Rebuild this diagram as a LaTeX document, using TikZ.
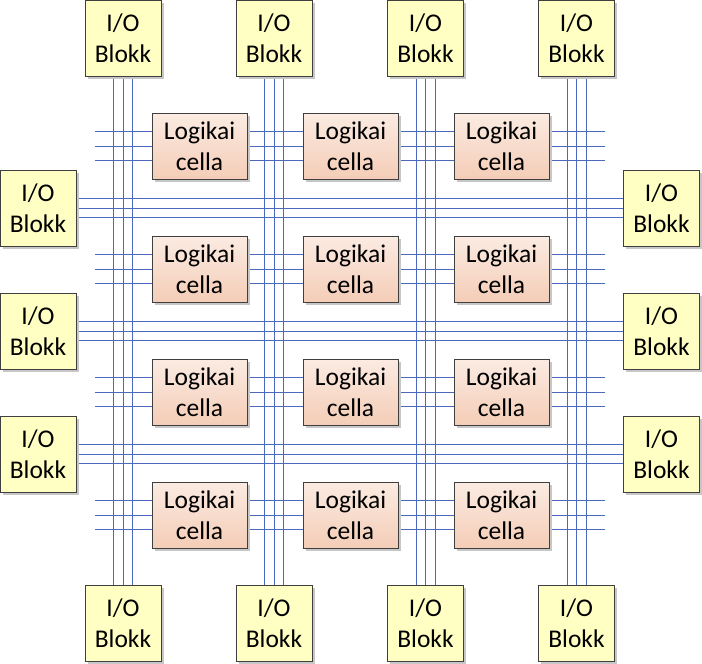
\documentclass[tikz,border=0pt]{standalone}
\usepackage{fontspec}
\setmainfont{Carlito}
\usetikzlibrary{shadows,backgrounds}
\definecolor{wire}{HTML}{4A69BD}
\definecolor{iofill}{HTML}{FFFFC4}
\definecolor{celltop}{HTML}{FBEBE2}
\definecolor{cellbot}{HTML}{F4CDB7}
\definecolor{edge}{HTML}{3F3F3F}
\tikzset{
  x=1pt, y=-1pt,
  iobox/.style={draw=edge, line width=1pt, fill=iofill, minimum width=76pt, minimum height=76pt,
    inner sep=0pt, align=center, font=\fontsize{25.5}{31}\selectfont,
    drop shadow={shadow xshift=2.5pt, shadow yshift=-2.5pt, fill=black!22, opacity=1}},
  cellbox/.style={draw=edge, line width=1pt, top color=celltop, bottom color=cellbot,
    minimum width=95pt, minimum height=66pt, inner sep=0pt, align=center,
    font=\fontsize{25.5}{31}\selectfont,
    drop shadow={shadow xshift=2.5pt, shadow yshift=-2.5pt, fill=black!22, opacity=1}},
  wireline/.style={draw=wire, line width=1pt},
}
\begin{document}
\begin{tikzpicture}
\useasboundingbox (0,0) rectangle (702,664);
% I/O blocks
\foreach \i/\cx in {1/123,2/274,3/425.5,4/576.5}{
  \node[iobox] (iot\i) at (\cx,38) {I/O\\Blokk};
  \node[iobox] (iob\i) at (\cx,623) {I/O\\Blokk};
}
\foreach \i/\cy in {1/208,2/331,3/454}{
  \node[iobox] (iol\i) at (38,\cy) {I/O\\Blokk};
  \node[iobox] (ior\i) at (661.5,\cy) {I/O\\Blokk};
}
% logic cells
\foreach \r/\cy in {1/146,2/269,3/392,4/515}{
  \foreach \c/\cx in {1/199.5,2/350.5,3/501.5}{
    \node[cellbox] (c\r\c) at (\cx,\cy) {Logikai\\cella};
  }
}
% free ends of cell-row wires
\foreach \r/\cy in {1/146,2/269,3/392,4/515}{
  \coordinate (wl\r) at (95,\cy);
  \coordinate (wr\r) at (605,\cy);
}
% wires (behind the boxes)
\begin{scope}[on background layer]
\foreach \i in {1,2,3,4}{
  \foreach \d in {-9.5,0,9.5}{
    \draw[wireline] ([xshift=\d pt]iot\i.south) -- ([xshift=\d pt]iob\i.north);
  }
}
\foreach \i in {1,2,3}{
  \foreach \d in {-9.5,0,9.5}{
    \draw[wireline] ([yshift=\d pt]iol\i.east) -- ([yshift=\d pt]ior\i.west);
  }
}
\foreach \r in {1,2,3,4}{
  \foreach \d in {-14.5,0,14.5}{
    \draw[wireline] ([yshift=\d pt]wl\r) -- ([yshift=\d pt]wr\r);
  }
}
\end{scope}
\end{tikzpicture}
\end{document}
